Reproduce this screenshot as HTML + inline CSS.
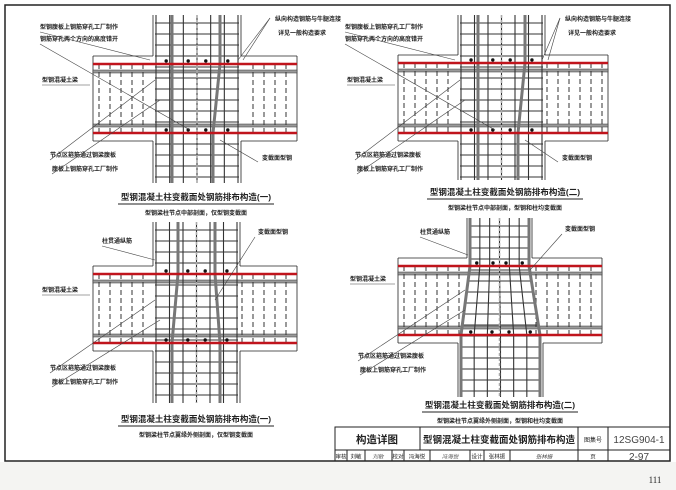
<!DOCTYPE html>
<html><head><meta charset="utf-8"><style>
html,body{margin:0;padding:0;background:#f2f2f2;}
svg{display:block;font-family:"Liberation Sans","Noto Sans CJK SC",sans-serif;}
</style></head><body>
<svg id="s" width="676" height="490" viewBox="0 0 676 490" xmlns="http://www.w3.org/2000/svg">
<rect x="0" y="0" width="676" height="462" fill="#fff"/>
<rect x="0" y="462" width="676" height="28" fill="#f4f4f2"/>
<rect x="5" y="5" width="665" height="456" fill="#fff" stroke="#222" stroke-width="1.5"/>
<g id="d"></g>
<g stroke="#222" stroke-width="1" fill="none">
<rect x="335" y="427" width="335" height="34"/>
<line x1="335" y1="450" x2="670" y2="450"/>
<line x1="420" y1="427" x2="420" y2="450"/>
<line x1="578" y1="427" x2="578" y2="461"/>
<line x1="608" y1="427" x2="608" y2="461"/>
<line x1="347" y1="450" x2="347" y2="461"/>
<line x1="365" y1="450" x2="365" y2="461"/>
<line x1="392" y1="450" x2="392" y2="461"/>
<line x1="404" y1="450" x2="404" y2="461"/>
<line x1="430" y1="450" x2="430" y2="461"/>
<line x1="470" y1="450" x2="470" y2="461"/>
<line x1="484" y1="450" x2="484" y2="461"/>
<line x1="510" y1="450" x2="510" y2="461"/>
</g>
<g fill="#222" font-size="11">
<text x="377" y="443" text-anchor="middle" font-weight="bold" font-size="10.5">构造详图</text>
<text x="499" y="443" text-anchor="middle" font-weight="bold" font-size="9.5">型钢混凝土柱变截面处钢筋排布构造</text>
<text x="593" y="442" text-anchor="middle" font-size="6">图集号</text>
<text x="639" y="443" text-anchor="middle" font-size="10" fill="#444">12SG904-1</text>
<text x="341" y="458.5" text-anchor="middle" font-size="5.5">审核</text>
<text x="356" y="458.5" text-anchor="middle" font-size="5.5">刘敏</text>
<text x="378" y="458.5" text-anchor="middle" font-size="5.5" fill="#666" font-style="italic">刘敏</text>
<text x="398" y="458.5" text-anchor="middle" font-size="5.5">校对</text>
<text x="417" y="458.5" text-anchor="middle" font-size="5.5">冯海悦</text>
<text x="450" y="458.5" text-anchor="middle" font-size="5.5" fill="#555" font-style="italic">冯海悦</text>
<text x="477" y="458.5" text-anchor="middle" font-size="5.5">设计</text>
<text x="497" y="458.5" text-anchor="middle" font-size="5.5">张林振</text>
<text x="544" y="458.5" text-anchor="middle" font-size="5.5" fill="#444" font-style="italic">张林振</text>
<text x="593" y="458.5" text-anchor="middle" font-size="5.5">页</text>
<text x="639" y="460" text-anchor="middle" font-size="10" fill="#444">2-97</text>
<text x="655" y="483" text-anchor="middle" font-size="9" font-family="Liberation Serif,serif">111</text>
</g>
</svg>
<script>
var g=document.getElementById('d'),h='';
function L(x1,y1,x2,y2,c,w,da){h+='<line x1="'+x1+'" y1="'+y1+'" x2="'+x2+'" y2="'+y2+'" stroke="'+(c||'#222')+'" stroke-width="'+(w||0.8)+'"'+(da?' stroke-dasharray="'+da+'"':'')+'/>';}
function T(x,y,t,s,a,b){h+='<text x="'+x+'" y="'+y+'" font-size="'+s+'" fill="#222"'+(a?' text-anchor="'+a+'"':'')+(b?' font-weight="bold"':'')+'>'+t+'</text>';}
function D(o){
 var cx0=o.cx0,cx1=o.cx1,lx0=o.lx0,lx1=o.lx1,bx0=o.bx0,bx1=o.bx1,yt=o.yt,r1=o.r1,r2=o.r2,yb=o.yb;
 L(cx0,yt,cx0,r1-8);L(cx1,yt,cx1,r1-8);L(lx0,r2+8,lx0,yb);L(lx1,r2+8,lx1,yb);
 L(bx0,r1-8,cx0,r1-8);L(cx1,r1-8,bx1,r1-8);L(bx0,r2+8,lx0,r2+8);L(lx1,r2+8,bx1,r2+8);
 L(bx0,r1-8,bx0,r2+8);L(bx1,r1-8,bx1,r2+8);
 h+='<rect x="'+bx0+'" y="'+(r1+6)+'" width="'+(bx1-bx0)+'" height="3" fill="#999" stroke="#333" stroke-width="0.5"/>';
 h+='<rect x="'+bx0+'" y="'+(r2-9)+'" width="'+(bx1-bx0)+'" height="3" fill="#999" stroke="#333" stroke-width="0.5"/>';
 for(var x=bx0+6;x<bx1;x+=11){if(x>cx0-2&&x<cx1+2)continue;L(x,r1,x,r2,'#333',1,'5,3');}
 var n=6;for(var i=0;i<=n;i++){var xa=cx0+3+(cx1-cx0-6)*i/n,xb=lx0+3+(lx1-lx0-6)*i/n;L(xa,yt,xa,r1,'#333',1.1);L(xb,r2,xb,yb,'#333',1.1);L(xa,r1,xb,r2,'#333',1.1);}
 for(var y=yt+8;y<yb;y+=11){var f=(y<r1)?0:(y>r2?1:(y-r1)/(r2-r1));var a=cx0+(lx0-cx0)*f,b=cx1+(lx1-cx1)*f;L(a+2,y,b-2,y,'#333',1);}
 var s0=o.s0,s1=o.s1;
 h+='<polyline points="'+s0[0]+','+yt+' '+s0[0]+','+r1+' '+s0[1]+','+r2+' '+s0[1]+','+yb+'" fill="none" stroke="#777" stroke-width="3"/>';
 h+='<polyline points="'+s1[0]+','+yt+' '+s1[0]+','+r1+' '+s1[1]+','+r2+' '+s1[1]+','+yb+'" fill="none" stroke="#777" stroke-width="3"/>';
 var m=(cx0+cx1)/2;L(m,yt,m,yb,'#aaa',1.5,'3,2');
 L(bx0,r1,bx1,r1,'#c0141c',2.5);L(bx0,r2,bx1,r2,'#c0141c',2.5);
 [0.15,0.4,0.6,0.85].forEach(function(p){h+='<circle cx="'+(cx0+(cx1-cx0)*p)+'" cy="'+(r1-3)+'" r="1.7" fill="#111"/><circle cx="'+(lx0+(lx1-lx0)*p)+'" cy="'+(r2-3)+'" r="1.7" fill="#111"/>';});
 T(o.tx,o.ty,o.t,8.5,'middle',true);L(o.tx-78,o.ty+4,o.tx+78,o.ty+4,'#222',1);T(o.tx,o.ty+15,o.st,6,'middle',true);
 o.lb.forEach(function(l){T(l[0],l[1],l[2],6,null,true);L(l[3],l[4],l[5],l[6],'#444',0.6);});
}
var t1='型钢混凝土柱变截面处钢筋排布构造(一)',t2='型钢混凝土柱变截面处钢筋排布构造(二)';
D({cx0:153,cx1:241,lx0:153,lx1:241,bx0:93,bx1:297,yt:15,r1:64,r2:133,yb:183,s0:[172,172],s1:[220,213],tx:196,ty:200,t:t1,st:'型钢梁柱节点中部剖面，仅型钢变截面',
 lb:[[40,29,'型钢腹板上钢筋穿孔工厂制作',40,32,150,60],[40,41,'钢筋穿孔两个方向的高度错开',40,44,190,130],[42,82,'型钢混凝土梁',42,85,90,85],[50,157,'节点区箍筋通过钢梁腹板',50,160,155,80],[52,171,'腹板上钢筋穿孔工厂制作',52,174,160,100],[275,21,'纵向构造钢筋与牛腿连接',270,18,243,60],[278,35,'详见一般构造要求',270,18,238,60],[262,160,'变截面型钢',258,162,220,140]]});
D({cx0:458,cx1:545,lx0:458,lx1:545,bx0:398,bx1:608,yt:15,r1:63,r2:133,yb:180,s0:[478,478],s1:[525,518],tx:505,ty:195,t:t2,st:'型钢梁柱节点中部剖面，型钢和柱均变截面',
 lb:[[345,29,'型钢腹板上钢筋穿孔工厂制作',345,32,455,60],[345,41,'钢筋穿孔两个方向的高度错开',345,44,495,130],[347,82,'型钢混凝土梁',347,85,395,85],[355,157,'节点区箍筋通过钢梁腹板',355,160,460,80],[357,171,'腹板上钢筋穿孔工厂制作',357,174,465,100],[565,21,'纵向构造钢筋与牛腿连接',560,18,548,60],[568,35,'详见一般构造要求',560,18,542,60],[562,160,'变截面型钢',558,162,525,140]]});
D({cx0:153,cx1:240,lx0:153,lx1:240,bx0:93,bx1:297,yt:222,r1:274,r2:343,yb:403,s0:[178,172],s1:[215,220],tx:196,ty:422,t:t1,st:'型钢梁柱节点翼缘外侧剖面，仅型钢变截面',
 lb:[[102,243,'柱贯通纵筋',102,246,155,260],[258,234,'变截面型钢',255,237,215,300],[42,292,'型钢混凝土梁',42,295,90,295],[50,370,'节点区箍筋通过钢梁腹板',50,373,155,300],[52,384,'腹板上钢筋穿孔工厂制作',52,387,160,320]]});
D({cx0:467,cx1:532,lx0:458,lx1:543,bx0:398,bx1:602,yt:218,r1:266,r2:335,yb:397,s0:[470,461],s1:[529,540],tx:500,ty:408,t:t2,st:'型钢梁柱节点翼缘外侧剖面，型钢和柱均变截面',
 lb:[[420,234,'柱贯通纵筋',420,237,468,255],[565,231,'变截面型钢',562,234,530,270],[350,281,'型钢混凝土梁',350,284,395,284],[358,358,'节点区箍筋通过钢梁腹板',358,361,465,290],[360,372,'腹板上钢筋穿孔工厂制作',360,375,465,310]]});
g.innerHTML=h;
</script>
</body></html>
